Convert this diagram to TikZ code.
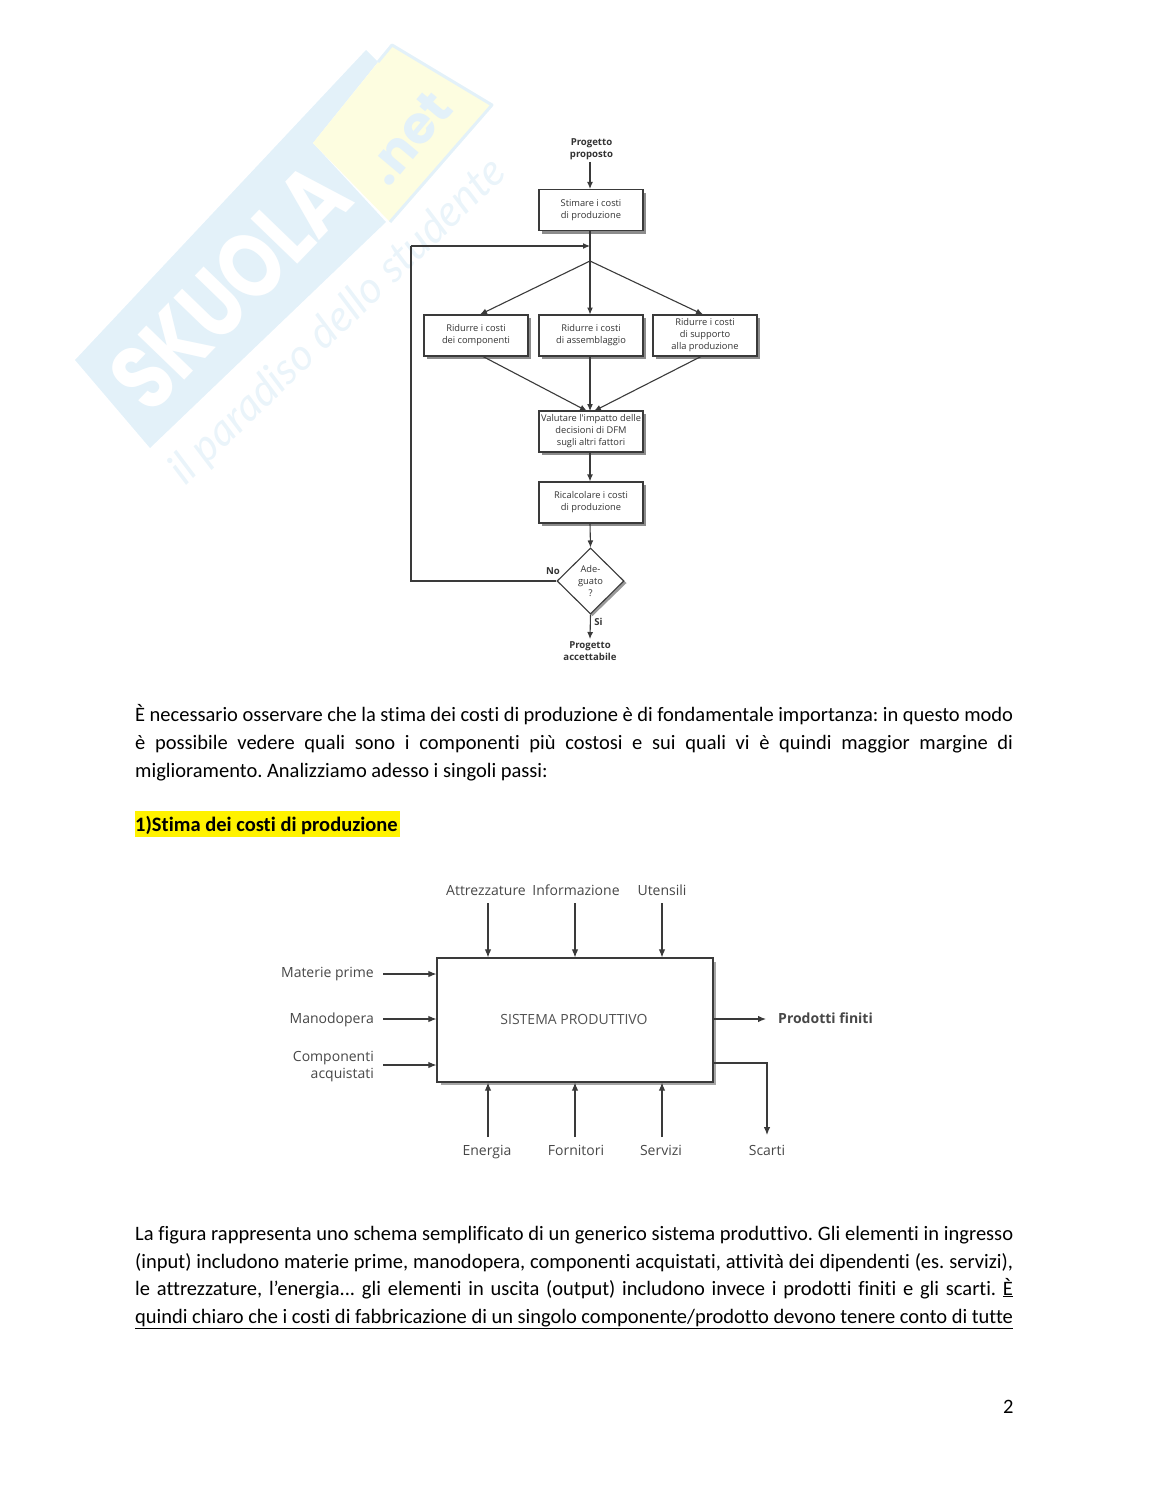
\documentclass[tikz,border=0pt]{standalone}
\usepackage{fontspec}
\setmainfont[Ligatures=NoCommon]{Carlito}
\newfontfamily\figfont{Open Sans}
\newfontfamily\wmfont{Poppins}
\newfontfamily\wmscript{Lato}
\usetikzlibrary{arrows.meta,shapes.geometric}
\definecolor{wmblue}{HTML}{E3F1F9}
\definecolor{wmtagc}{HTML}{EAF4FA}
\definecolor{wmyellow}{HTML}{FDFDE0}
\definecolor{figink}{HTML}{333333}
\definecolor{lineink}{HTML}{3A3A3A}
\tikzset{
  x=1pt,y=-1pt,
  bodyline/.style={anchor=base west,inner sep=0pt,font=\fontsize{20.5}{24}\selectfont},
  flowbox/.style={draw=lineink,line width=1.1pt,fill=white,minimum width=104pt,minimum height=41pt,inner sep=0pt,align=center,text=figink,font=\figfont\fontsize{9.3}{12}\selectfont,
    preaction={draw=none,fill=black!45,transform canvas={xshift=3pt,yshift=-3pt}}},
  flowlabel/.style={inner sep=0pt,align=center,text=figink,font=\figfont\bfseries\fontsize{9.6}{12}\selectfont},
  flowarrow/.style={draw=lineink,line width=1.1pt,-{Latex[length=7pt,width=6pt]}},
  flowline/.style={draw=lineink,line width=1.1pt},
  syslabel/.style={inner sep=0pt,align=center,anchor=base,text=figink!90,font=\figfont\fontsize{14}{17}\selectfont},
  sysarrow/.style={draw=lineink,line width=1.1pt,-{Latex[length=8pt,width=6.5pt]}},
}
\begin{document}
\begin{tikzpicture}
\frenchspacing
\useasboundingbox (0,0) rectangle (1148,1485);
% watermark
\fill[wmblue] (75,360) -- (366,50) -- (378,62) -- (313,143) -- (386,222) -- (150,448) -- cycle;
\fill[wmyellow] (313,143) -- (392,45) -- (492,105) -- (390,222) -- cycle;
\draw[wmblue,line width=3pt,line join=round] (378,62) -- (392,45) -- (492,105) -- (390,222);
\node[rotate=46,inner sep=0pt,text=white,font=\wmfont\bfseries\fontsize{74}{80}\selectfont] (wmname) at (230,287) {\scalebox{1}[1.25]{SKUOLA}};
\node[rotate=50,inner sep=0pt,text=wmblue,font=\wmfont\bfseries\fontsize{52}{60}\selectfont] (wmnet) at (408,138) {.net};
\node[rotate=44,inner sep=0pt,text=wmtagc,font=\wmscript\itshape\fontsize{43.5}{50}\selectfont] (wmtag) at (338,322) {il paradiso dello studente};
% flowchart
\node[flowlabel] (start) at (591.5,149) {Progetto\\proposto};
\node[flowbox] (stima) at (591,210) {Stimare i costi\\di produzione};
\coordinate (merge) at (590,246);
\coordinate (split) at (590,261);
\node[flowbox] (compo) at (476,335.5) {Ridurre i costi\\dei componenti};
\node[flowbox] (assem) at (591,335.5) {Ridurre i costi\\di assemblaggio};
\node[flowbox] (suppo) at (705,335.5) {Ridurre i costi\\di supporto\\alla produzione};
\node[flowbox] (valut) at (591,431.5) {Valutare l'impatto delle\\decisioni di DFM\\sugli altri fattori};
\node[flowbox] (ricalc) at (591,502.5) {Ricalcolare i costi\\di produzione};
\fill[black!40] (592.5,550) -- (626.5,583) -- (592.5,616) -- (559,583) -- cycle;
\node[diamond,draw=lineink,line width=1.1pt,fill=white,minimum width=67pt,minimum height=66pt,inner sep=0pt,aspect=1] (adeg) at (590.5,581) {};
\node[inner sep=0pt,align=center,text=figink,font=\figfont\fontsize{9.3}{12}\selectfont] (adegt) at (590.5,581) {Ade-\\guato\\?};
\node[flowlabel] (nolab) at (553,571) {No};
\node[flowlabel] (silab) at (598.5,622) {Si};
\node[flowlabel] (end) at (590,651) {Progetto\\accettabile};
\coordinate (corner1) at (411,581);
\coordinate (corner2) at (411,246);
\coordinate (endin) at (590,639);
\draw[flowarrow] (start.south -| merge) ++(0,2) -- (stima.north -| merge);
\draw[flowline] (stima.south -| merge) -- (split);
\draw[flowline] (adeg.west) -- (corner1) -- (corner2);
\draw[flowarrow] (corner2) -- (merge);
\draw[flowarrow] (split) -- (480,314.5);
\draw[flowarrow] (split) -- (590,314.5);
\draw[flowarrow] (split) -- (703,314.5);
\draw[flowarrow] (482,356) -- (587,411);
\draw[flowarrow] (590,356) -- (590,411);
\draw[flowarrow] (702,356) -- (594,411);
\draw[flowarrow] (valut.south -| merge) -- (ricalc.north -| merge);
\draw[flowarrow] (ricalc.south -| merge) -- (adeg.north);
\draw[flowarrow] (adeg.south) -- (endin);
% body text 1
\node[bodyline] (p1) at (135,721.5) {\makebox[878pt][s]{È necessario osservare che la stima dei costi di produzione è di fondamentale importanza: in questo modo}};
\node[bodyline] (p2) at (135,749.5) {\makebox[878pt][s]{è possibile vedere quali sono i componenti più costosi e sui quali vi è quindi maggior margine di}};
\node[bodyline] (p3) at (135,777.5) {miglioramento. Analizziamo adesso i singoli passi:};
\fill[yellow] (135,811) rectangle (400,837);
\node[bodyline,font=\fontsize{20.5}{24}\selectfont\bfseries] (head) at (135,831) {1)Stima dei costi di produzione};
% system diagram
\fill[black!35] (441,962) rectangle (716,1085);
\node[draw=lineink,line width=1.2pt,fill=white,minimum width=276pt,minimum height=124pt,inner sep=0pt] (sys) at (575,1020) {};
\node[syslabel,text=figink!85] (systxt) at (574,1024) {SISTEMA PRODUTTIVO};
\node[syslabel] (att) at (486,895) {Attrezzature};
\node[syslabel] (inf) at (576,895) {Informazione};
\node[syslabel] (ute) at (662,895) {Utensili};
\node[syslabel,anchor=base east] (mat) at (374,977) {Materie prime};
\node[syslabel,anchor=base east] (man) at (374,1023) {Manodopera};
\node[syslabel,anchor=base east,align=right] (com) at (374,1078) {Componenti\\acquistati};
\node[syslabel,font=\figfont\bfseries\fontsize{14}{17}\selectfont,anchor=base west] (pro) at (778,1023) {Prodotti finiti};
\node[syslabel] (ene) at (487,1155) {Energia};
\node[syslabel] (frn) at (576,1155) {Fornitori};
\node[syslabel] (ser) at (661,1155) {Servizi};
\node[syslabel] (sca) at (767,1155) {Scarti};
\coordinate (t1) at (488,903); \coordinate (t2) at (575,903); \coordinate (t3) at (662,903);
\coordinate (b1) at (488,1137); \coordinate (b2) at (575,1137); \coordinate (b3) at (662,1137);
\coordinate (l1) at (383,974); \coordinate (l2) at (383,1019); \coordinate (l3) at (383,1065);
\coordinate (r1) at (766,1019); \coordinate (r2) at (767,1063); \coordinate (r3) at (767,1135);
\draw[sysarrow] (t1) -- (t1 |- sys.north);
\draw[sysarrow] (t2) -- (t2 |- sys.north);
\draw[sysarrow] (t3) -- (t3 |- sys.north);
\draw[sysarrow] (b1) -- (b1 |- sys.south);
\draw[sysarrow] (b2) -- (b2 |- sys.south);
\draw[sysarrow] (b3) -- (b3 |- sys.south);
\draw[sysarrow] (l1) -- (l1 -| sys.west);
\draw[sysarrow] (l2) -- (l2 -| sys.west);
\draw[sysarrow] (l3) -- (l3 -| sys.west);
\draw[sysarrow] (sys.east |- r1) -- (r1);
\draw[sysarrow] (sys.east |- r2) -- (r2) -- (r3);
% body text 2
\node[bodyline] (q1) at (135,1240) {\makebox[878pt][s]{La figura rappresenta uno schema semplificato di un generico sistema produttivo. Gli elementi in ingresso}};
\node[bodyline] (q2) at (135,1268) {\makebox[878pt][s]{(input) includono materie prime, manodopera, componenti acquistati, attività dei dipendenti (es. servizi),}};
\node[bodyline] (q3) at (135,1295) {\makebox[878pt][s]{le attrezzature, l’energia... gli elementi in uscita (output) includono invece i prodotti finiti e gli scarti. \underline{È}}};
\node[bodyline] (q4) at (135,1323) {\underline{\makebox[878pt][s]{quindi chiaro che i costi di fabbricazione di un singolo componente/prodotto devono tenere conto di tutte}}};
\node[bodyline] (page) at (1003,1413) {2};
\end{tikzpicture}
\end{document}
